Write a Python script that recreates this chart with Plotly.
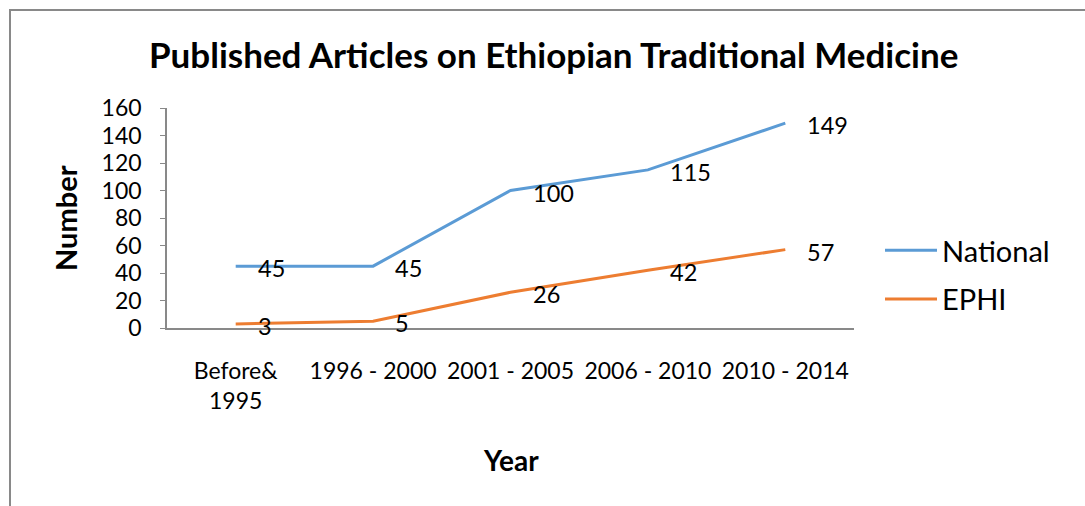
import plotly.graph_objects as go

categories = ["Before&<br>1995", "1996 - 2000", "2001 - 2005", "2006 - 2010", "2010 - 2014"]
national = [45, 45, 100, 115, 149]
ephi = [3, 5, 26, 42, 57]

W, H = 1085, 506
L, R, T, B = 167, 231, 108, 178
FONT = "Lato, Calibri, Carlito, sans-serif"

fig = go.Figure()
fig.add_trace(go.Scatter(x=categories, y=national, mode="lines", name="National",
                         legendgroup="a", line=dict(color="#5B9BD5", width=3)))
fig.add_trace(go.Scatter(x=categories, y=ephi, mode="lines", name="EPHI",
                         legendgroup="b", line=dict(color="#ED7D31", width=3)))

for xs, ys in ((categories, national), (categories, ephi)):
    for c, v in zip(xs, ys):
        fig.add_annotation(x=c, y=v, text=str(v), showarrow=False, xanchor="left",
                           yanchor="middle", xshift=20, yshift=-2,
                           font=dict(size=23.5, color="#000", family=FONT))

pw = W - L - R
ph = H - T - B
def px2x(p): return (p - L) / pw
def py2y(p): return (H - B - p) / ph

# chart border (top/left visible)
fig.add_shape(type="rect", xref="paper", yref="paper",
              x0=px2x(10), x1=px2x(W + 20), y0=py2y(H + 20), y1=py2y(10),
              line=dict(color="#898989", width=2), layer="below")

fig.add_annotation(xref="paper", yref="paper", x=px2x(553), y=py2y(54),
                   text="<b>Published Articles on Ethiopian Traditional Medicine</b>",
                   showarrow=False, xanchor="center", yanchor="middle",
                   font=dict(size=35, color="#000", family=FONT))
fig.add_annotation(xref="paper", yref="paper", x=px2x(65), y=py2y(218),
                   text="<b>Number</b>", textangle=-90, showarrow=False,
                   xanchor="center", yanchor="middle",
                   font=dict(size=29, color="#000", family=FONT))
fig.add_annotation(xref="paper", yref="paper", x=px2x(511), y=py2y(460),
                   text="<b>Year</b>", showarrow=False,
                   xanchor="center", yanchor="middle",
                   font=dict(size=28, color="#000", family=FONT))

fig.update_layout(
    width=W, height=H,
    margin=dict(l=L, r=R, t=T, b=B, autoexpand=False),
    paper_bgcolor="white", plot_bgcolor="white",
    font=dict(family=FONT, size=23, color="#000"),
    showlegend=True,
    legend=dict(x=px2x(880), y=py2y(225), xanchor="left", yanchor="top",
                font=dict(size=29, family=FONT, color="#000"),
                bgcolor="rgba(0,0,0,0)", tracegroupgap=8, itemwidth=52),
)
fig.update_xaxes(type="category", range=[-0.5, 4.5], showline=True, linecolor="#898989",
                 linewidth=1.5, ticks="", showgrid=False, zeroline=False,
                 tickfont=dict(size=23, family=FONT, color="#000"), ticklabelstandoff=22)
fig.update_yaxes(range=[0, 160], dtick=20, showline=True, linecolor="#898989",
                 linewidth=1.5, ticks="outside", ticklen=5, tickcolor="#898989",
                 showgrid=False, zeroline=False, ticklabelstandoff=14,
                 tickfont=dict(size=23, family=FONT, color="#000"))

fig.write_html("out.html")
